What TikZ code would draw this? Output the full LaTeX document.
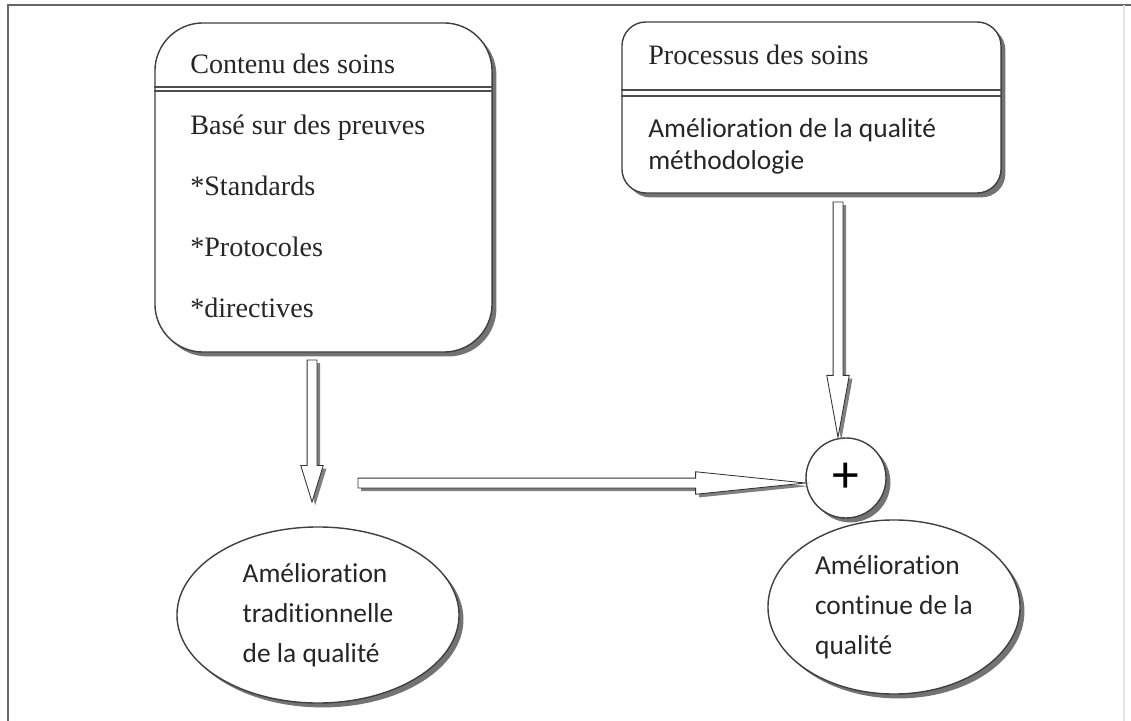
\documentclass[tikz,border=0pt]{standalone}
\usepackage{fontspec}
\setmainfont{Liberation Serif}
\newfontfamily\calibri[Ligatures = NoCommon]{Carlito}
\usepackage{tikz}
\usetikzlibrary{calc}
\usetikzlibrary{shapes.geometric}
\usetikzlibrary{shadows}

\tikzset{
    panel/.style = {draw = black!75, line width = 1pt, fill = white, drop shadow = {shadow xshift = 0.11cm, shadow yshift = -0.11cm, fill = black!55, opacity = 1}},
    bubble/.style = {panel, ellipse, align = left, inner sep = 0pt, text = black!85, font = \calibri\fontsize{19.5}{28.3}\selectfont},
    boxtext/.style = {anchor = base west, inner sep = 0pt, text = black!85, font = \fontsize{20}{24}\selectfont},
    sanstext/.style = {boxtext, font = \calibri\fontsize{19.5}{24}\selectfont}
}

% hollow arrow from #1 to #2, head length #3
\newcommand{\arrowpath}[2]{($(#1)!3.5pt!90:(#2)$) -- ($(h)!3.5pt!90:(#2)$) -- ($(h)!8pt!90:(#2)$) -- (#2) -- ($(h)!8pt!-90:(#2)$) -- ($(h)!3.5pt!-90:(#2)$) -- ($(#1)!3.5pt!-90:(#2)$) -- cycle}
\newcommand{\hollowarrow}[3]{%
    \coordinate (h) at ($(#2)!#3!(#1)$);
    \begin{scope}[transform canvas = {xshift = 0.08cm, yshift = -0.08cm}]
        \fill [black!50] \arrowpath{#1}{#2};
    \end{scope}
    \filldraw [draw = black!80, fill = white, line width = 0.6pt] \arrowpath{#1}{#2};
}

\begin{document}
\begin{tikzpicture}[x = 0.025cm, y = -0.025cm]
    \useasboundingbox (0, 0) rectangle (1131, 721);
    \fill [white] (0, 0) rectangle (1131, 721);
    \draw [black!60, line width = 1.4pt] (8, 721) -- (8, 5) -- (1131, 5);
    \draw [black!10, line width = 0.8pt] (1124, 5) -- (1124, 721);

    % content box
    \node [panel, rounded corners = 1.2cm, minimum width = 8.425cm, minimum height = 8.225cm] (contenu) at (323.5, 187.5) {};
    \foreach \y in {87, 91} {
        \draw [black!70, line width = 0.8pt] (contenu.west |- 0,\y) -- (contenu.east |- 0,\y);
    }
    \node [boxtext] (contenu-0) at (190, 74) {Contenu des soins};
    \foreach \t [count = \i] in {Basé sur des preuves, *Standards, *Protocoles, *directives} {
        \node [boxtext] (contenu-\i) at (190, 74 + 61*\i) {\t};
    }

    % process box
    \node [panel, rounded corners = 0.6cm, minimum width = 9.475cm, minimum height = 4.275cm] (processus) at (811.5, 107.5) {};
    \foreach \y in {90, 96} {
        \draw [black!70, line width = 0.8pt] (processus.west |- 0,\y) -- (processus.east |- 0,\y);
    }
    \node [boxtext] (processus-0) at (648, 65) {Processus des soins};
    \node [sanstext] (processus-1) at (648, 138) {Amélioration de la qualité};
    \node [sanstext] (processus-2) at (648, 170) {méthodologie};

    % sum and results
    \node [panel, circle, minimum size = 2cm, inner sep = 0pt, font = \calibri\fontsize{38}{38}\selectfont] (plus) at (846, 478) {+};
    \node [bubble, minimum width = 7.05cm, minimum height = 4.4cm] (traditionnelle) at (318, 615) {Amélioration\\traditionnelle\\de la qualité};
    \node [bubble, minimum width = 6.3cm, minimum height = 4.35cm] (continue) at (894, 607) {Amélioration\\continue de la\\qualité};

    % arrows
    \coordinate (down1) at (312, 360);
    \coordinate (tip1) at (312, 502);
    \coordinate (from2) at (358, 483);
    \coordinate (from3) at (838, 202);
    \hollowarrow{down1}{tip1}{26pt}
    \hollowarrow{from2}{plus.west |- from2}{78pt}
    \hollowarrow{from3}{plus.north -| from3}{44pt}
\end{tikzpicture}
\end{document}
